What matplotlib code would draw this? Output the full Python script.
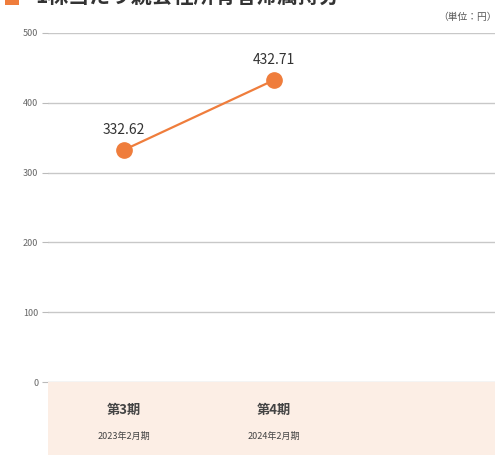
import matplotlib
matplotlib.use("Agg")
import matplotlib.pyplot as plt
from matplotlib.patches import Rectangle

plt.rcParams['font.family'] = ['Noto Sans CJK JP', 'DejaVu Sans']

periods = ["第3期", "第4期"]
fiscal = ["2023年2月期", "2024年2月期"]
values = [332.62, 432.71]
yticks = [0, 100, 200, 300, 400, 500]
title = "1株当たり親会社所有者帰属持分"
unit = "（単位：円）"

W, H = 495, 455
fig = plt.figure(figsize=(W / 100, H / 100), dpi=100)
ax = fig.add_axes([48 / W, (H - 382) / H, 1 - 48 / W, (382 - 33) / H])

# pink band under axis
fig.patches.append(Rectangle((48 / W, 0), 1 - 48 / W, (H - 382) / H,
                             transform=fig.transFigure, facecolor="#FCEEE5",
                             edgecolor="none", zorder=0))

x = list(range(len(values)))
ax.plot(x, values, color="#EF7D3C", lw=1.6, marker="o", ms=11,
        markerfacecolor="#EF7D3C", markeredgecolor="#EF7D3C", zorder=3,
        clip_on=False)
for xi, v in zip(x, values):
    ax.annotate(f"{v:.2f}", (xi, v), xytext=(0, 9), textcoords="offset points",
                ha="center", va="bottom", fontsize=10, color="#333333")

ax.set_xlim(-0.507, 2.47)
ax.set_ylim(0, 500)
ax.set_yticks(yticks)
ax.set_yticklabels([str(t) for t in yticks], fontsize=6.5, color="#666666")
ax.tick_params(axis="y", length=4, color="#bbbbbb", pad=3)
ax.set_xticks([])
ax.grid(axis="y", color="#c8c8c8", lw=1)
ax.set_axisbelow(True)
for s in ax.spines.values():
    s.set_visible(False)
ax.patch.set_alpha(0)

for xi, p, f in zip(x, periods, fiscal):
    xf = ax.transData.transform((xi, 0))[0]
    xf = fig.transFigure.inverted().transform((xf, 0))[0]
    fig.text(xf, (H - 410) / H, p, ha="center", va="center", fontsize=9.5,
             fontweight="bold", color="#444444")
    fig.text(xf, (H - 436) / H, f, ha="center", va="center", fontsize=6.5,
             color="#444444")

fig.text(35 / W, 1.0 + 3 / H, title, ha="left", va="center", fontsize=15,
         fontweight="bold", color="#333333")
fig.patches.append(Rectangle((5 / W, 1 - 5 / H), 14 / W, 12 / H,
                             transform=fig.transFigure, facecolor="#EF7D3C",
                             edgecolor="none"))
fig.text(438 / W, (H - 17) / H, unit, ha="left", va="center", fontsize=7,
         color="#555555")

fig.savefig("out.png", dpi=100)
